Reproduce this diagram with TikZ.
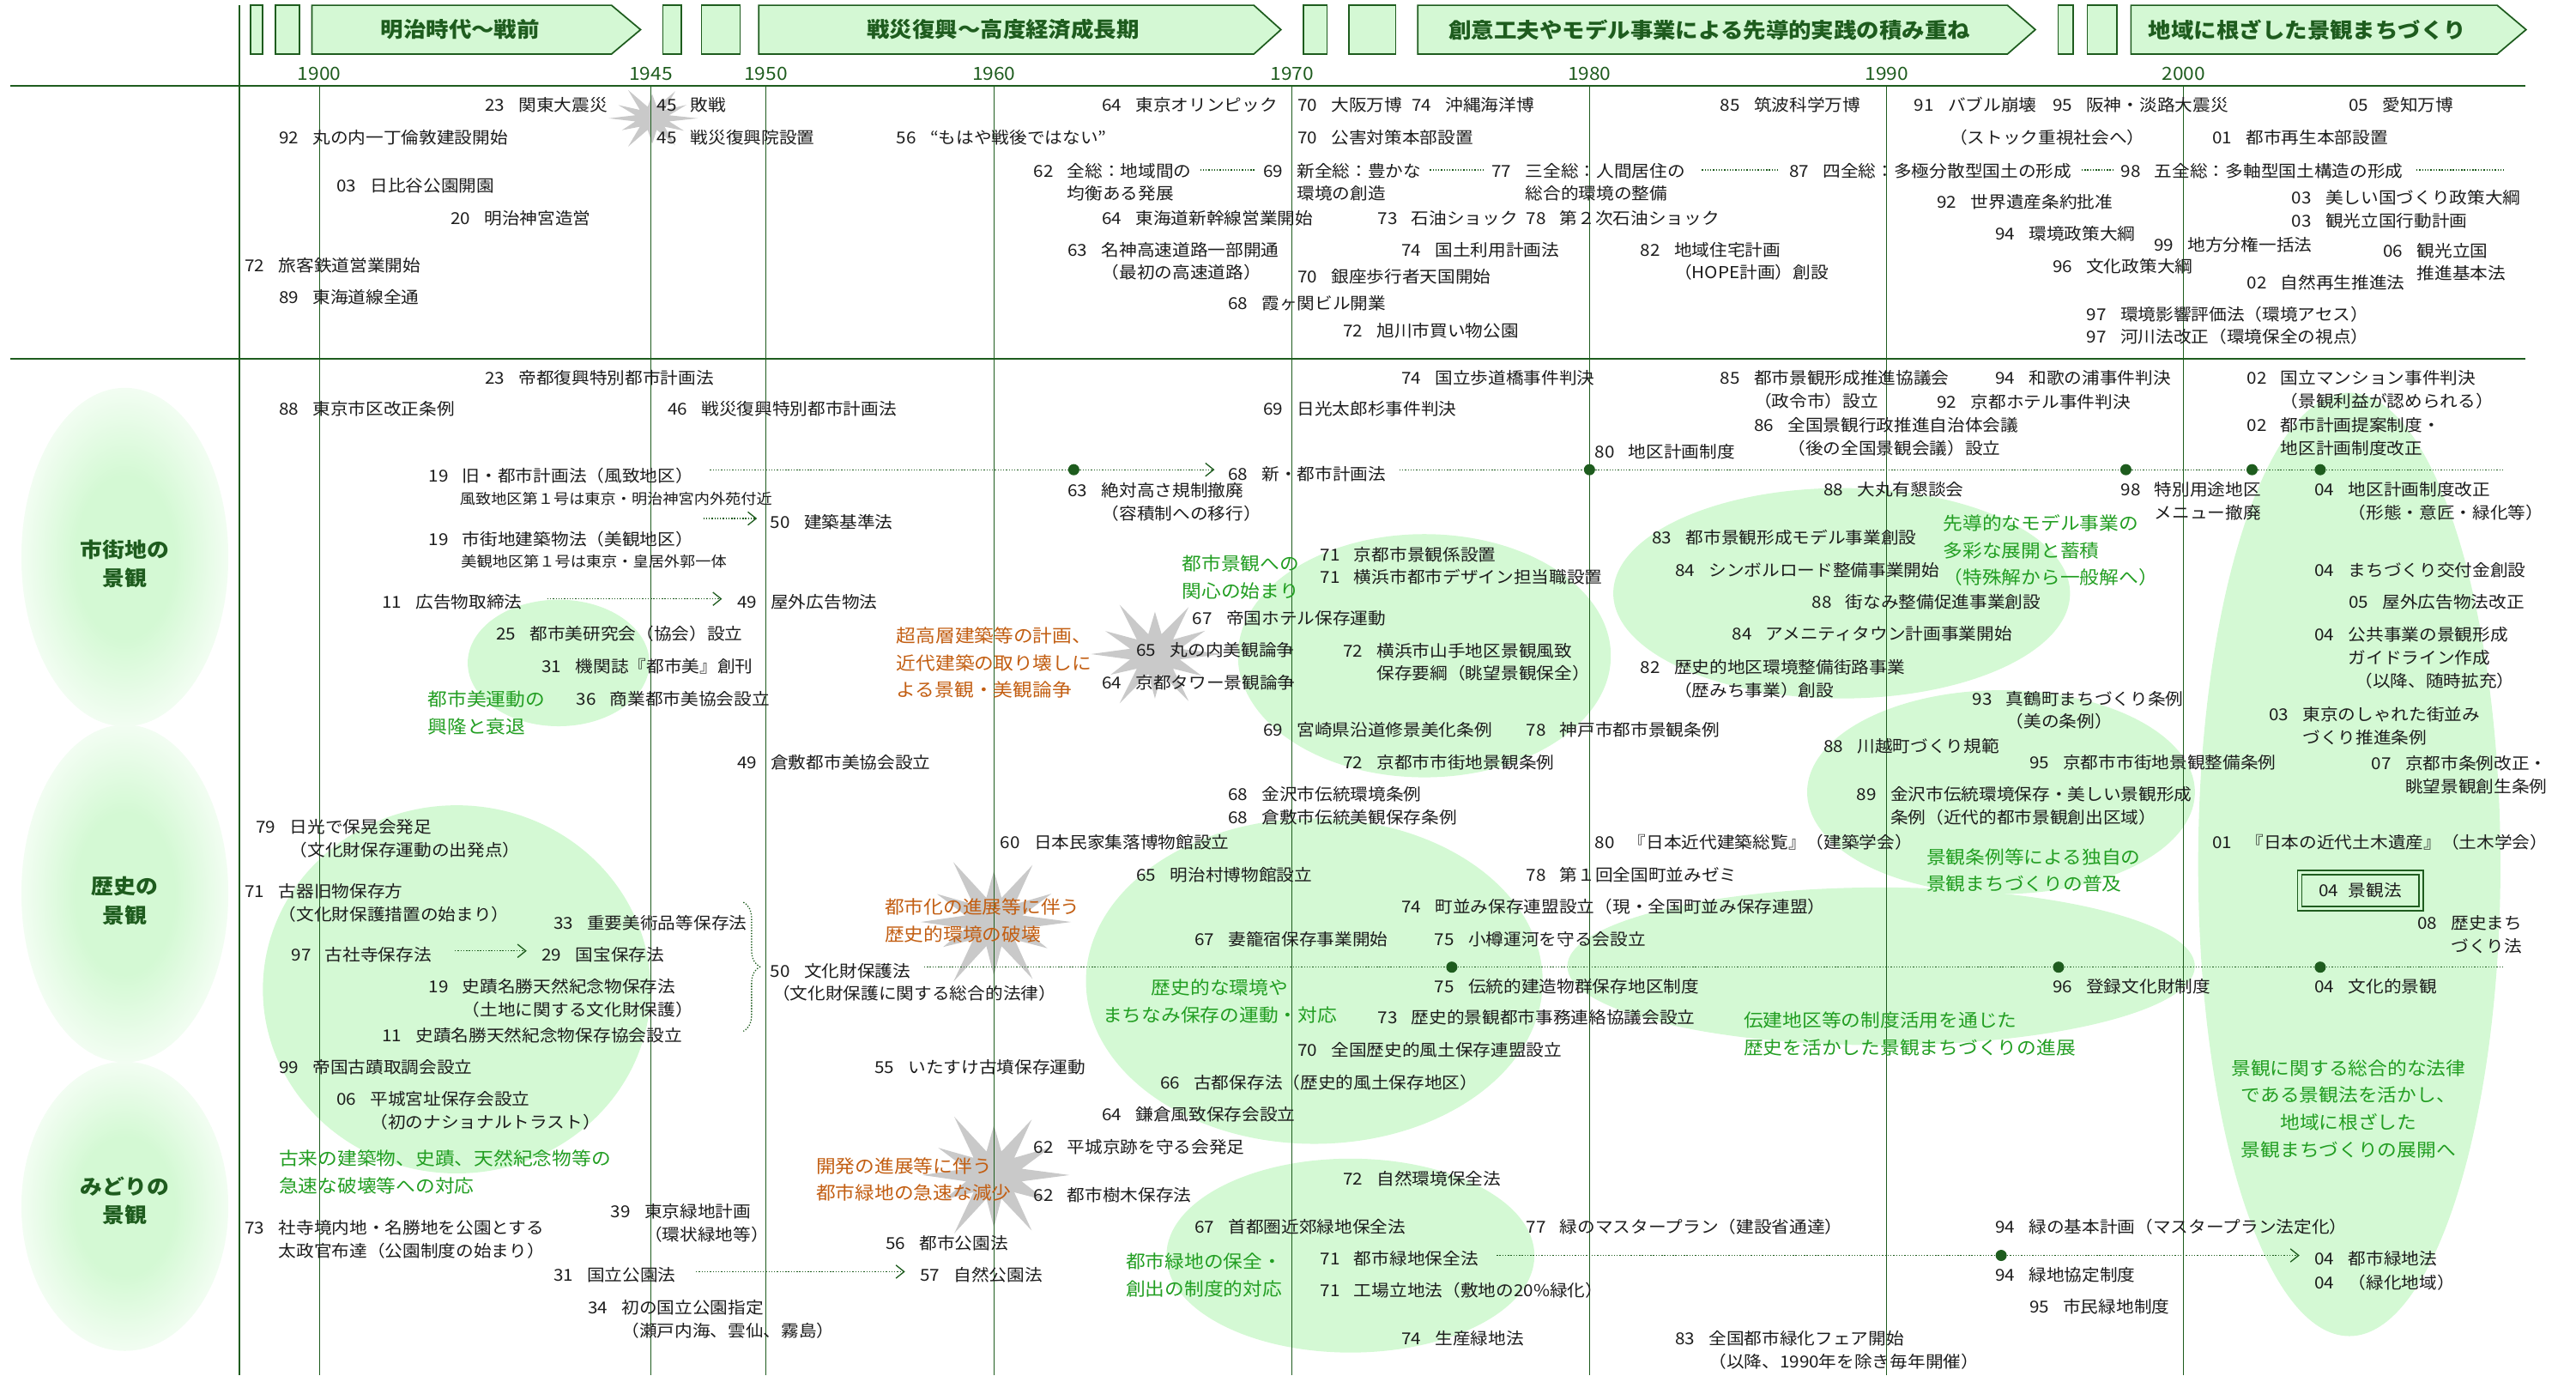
\documentclass[tikz,border=0pt]{standalone}
\usepackage{fontspec}
\setmainfont{Noto Sans CJK JP}[FakeStretch=1.08]
\usepackage{tikz}
\usetikzlibrary{arrows.meta,calc,decorations.pathreplacing}
\definecolor{dkgreen}{HTML}{1E5C1E}
\definecolor{hdrfill}{HTML}{D4F8D4}
\definecolor{blob}{HTML}{D4F9D4}
\definecolor{grn}{HTML}{229E22}
\definecolor{brn}{HTML}{C25E12}
\definecolor{burstgray}{HTML}{C9C9C9}
\definecolor{ink}{HTML}{1C1C1C}
\pgfdeclareradialshading{catshade}{\pgfpointorigin}{color(0bp)=(blob); color(12bp)=(blob); color(25bp)=(blob!30!white); color(50bp)=(blob!30!white)}

\newcommand\yrbox[1]{\makebox[20.5pt][l]{#1}}
\newcommand\ev[5]{\node[ev] (#1) at (#2,{#3+3.7}) {\begin{tabular}[t]{@{}l@{}l@{}}\yrbox{#4}&#5\end{tabular}};}
\newcommand\evtxt[4]{\node[ev] (#1) at (#2,{#3+3.7}) {#4};}
\newcommand\evnote[4]{\node[ev,font=\fontsize{8.8}{10}\selectfont] (#1) at (#2,{#3+3.3}) {#4};}
\newcommand\ann[5][grn]{\node[ann,text=#1] (#2) at (#3,{#4+4.1}) {\begin{tabular}[t]{@{}l@{}}#5\end{tabular}};}
\newcommand\burst[3]{\begin{scope}[shift={(#1)},x=#2pt,y=-#3pt]
 \fill[burstfill] (0:1) \foreach \a/\r in {30/.8,60/1,90/.82,120/1.05,150/.76,180/.95,210/.85,240/1.05,270/.78,300/1,330/.86} {-- (\a-15:.38) -- (\a:\r)} -- (345:.38) -- cycle;
\end{scope}}

\begin{document}
\begin{tikzpicture}[x=1pt,y=-1pt,
 ev/.style={anchor=base west,inner sep=0pt,text=ink,font=\fontsize{10}{14}\selectfont},
 ann/.style={anchor=base west,inner sep=0pt,font=\fontsize{11}{16.5}\selectfont},
 conn/.style={dkgreen,line width=.7pt,densely dotted},
 arr/.style={-{Straight Barb[length=5pt,width=8pt]}},
 fdot/.style={circle,fill=dkgreen,inner sep=0pt,minimum size=6.8pt},
 hdr/.style={draw=dkgreen,fill=hdrfill,line width=.9pt},
 hdrlab/.style={text=dkgreen,inner sep=0pt,font=\bfseries\fontsize{12.8}{14}\selectfont},
 yrline/.style={dkgreen,line width=.5pt},
 boldline/.style={dkgreen,line width=1.3pt},
 yrlab/.style={anchor=base,inner sep=0pt,text=dkgreen,font=\fontsize{11}{12}\selectfont},
 catlab/.style={anchor=base,inner sep=0pt,text=dkgreen,font=\bfseries\fontsize{12.5}{17.6}\selectfont},
 burstfill/.style={fill=burstgray}]
\useasboundingbox (0,0) rectangle (1568,837);

% category ellipses and green areas
\shade[shading=catshade] (76,339) ellipse (63 and 103);
\shade[shading=catshade] (76,543.7) ellipse (63 and 102.7);
\shade[shading=catshade] (76,734) ellipse (63 and 88);
\fill[blob] (340,403.4) ellipse (55.3 and 38.5);
\fill[blob] (278,602) ellipse (118 and 112);
\fill[blob] (867,399) ellipse (113.5 and 74);
\fill[blob] (1121,361) ellipse (139 and 64);
\fill[blob] (1218,482) ellipse (118 and 62);
\fill[blob] (1145,588) ellipse (191 and 48);
\fill[blob] (800,597) ellipse (139 and 99);
\fill[blob] (822,764) ellipse (112 and 59);
\fill[blob] (1430,526) ellipse (92 and 287);
\burst{397,72}{28}{19}
\burst{703,398}{41}{33}
\burst{605,561}{47}{40}
\burst{605,715}{46}{39}

% frame and years
\draw[boldline] (6.3,52.2) -- (1537,52.2);
\draw[boldline] (6.3,218.2) -- (1537,218.2);
\draw[boldline] (145.6,3.2) -- (145.6,837);
\foreach \x/\yl in {194.4/1900,396.2/1945,466.2/1950,605/1960,786.5/1970,967.5/1980,1148.5/1990,1329.2/2000}{
 \draw[yrline] (\x,52.2) -- (\x,837);
 \node[yrlab] (y\yl) at (\x,48.6) {\yl};
}

% header
\foreach \a/\b in {152.7/160,167.6/182.3,403.5/414.9,427/450.5,793.4/807.8,821.2/849.6,1252.8/1261.9,1270.5/1288.5}
 \draw[hdr] (\a,3.2) rectangle (\b,32.9);
\foreach \a/\b/\c in {189.9/372.2/389.9,461.9/763.2/779.7,863/1221.9/1238.9,1297.1/1520/1537.6}
 \draw[hdr] (\a,3.2) -- (\b,3.2) -- (\c,18.05) -- (\b,32.9) -- (\a,32.9) -- cycle;
\node[hdrlab] (era1) at (280.1,18.05) {明治時代～戦前};
\node[hdrlab] (era2) at (610.6,18.05) {戦災復興～高度経済成長期};
\node[hdrlab] (era3) at (1040.6,18.05) {創意工夫やモデル事業による先導的実践の積み重ね};
\node[hdrlab] (era4) at (1404.5,18.05) {地域に根ざした景観まちづくり};

\node[catlab] (cat1) at (76,339) {\begin{tabular}[t]{@{}c@{}}市街地の\\景観\end{tabular}};
\node[catlab] (cat2) at (76,544) {\begin{tabular}[t]{@{}c@{}}歴史の\\景観\end{tabular}};
\node[catlab] (cat3) at (76,726.6) {\begin{tabular}[t]{@{}c@{}}みどりの\\景観\end{tabular}};

% society
\ev{kanto}{295}{63.8}{23}{関東大震災}
\ev{haisen}{399.7}{63.8}{45}{敗戦}
\ev{olympic}{670.6}{63.8}{64}{東京オリンピック}
\ev{osaka}{789.6}{63.8}{70}{大阪万博}
\ev{okinawa}{859.2}{63.8}{74}{沖縄海洋博}
\ev{tsukuba}{1047}{63.8}{85}{筑波科学万博}
\ev{bubble}{1165}{63.8}{91}{バブル崩壊}
\evtxt{stock}{1186.5}{83.6}{（ストック重視社会へ）}
\ev{hanshin}{1249.2}{63.8}{95}{阪神・淡路大震災}
\ev{aichi}{1429.5}{63.8}{05}{愛知万博}
\ev{marunouchi}{169.6}{83.6}{92}{丸の内一丁倫敦建設開始}
\ev{fukkoin}{399.7}{83.6}{45}{戦災復興院設置}
\ev{mohaya}{545.5}{83.6}{56}{“もはや戦後ではない”}
\ev{kogai}{789.6}{83.6}{70}{公害対策本部設置}
\ev{saisei}{1346.5}{83.6}{01}{都市再生本部設置}
\ev{zenso}{629}{104}{62}{全総：地域間の\\&均衡ある発展}
\ev{shinzenso}{768.8}{104}{69}{新全総：豊かな\\&環境の創造}
\ev{sanzenso}{907.8}{104}{77}{三全総：人間居住の\\&総合的環境の整備}
\ev{yonzenso}{1089}{104}{87}{四全総：多極分散型国土の形成}
\ev{gozenso}{1290.8}{104}{98}{五全総：多軸型国土構造の形成}
\ev{hibiya}{204.6}{113.3}{03}{日比谷公園開園}
\ev{isan}{1178.9}{123.2}{92}{世界遺産条約批准}
\ev{utsukushii}{1394.8}{120.5}{03}{美しい国づくり政策大綱}
\ev{kanko}{1394.8}{134.5}{03}{観光立国行動計画}
\ev{meiji}{274.2}{132.7}{20}{明治神宮造営}
\ev{shinkansen}{670.6}{132.7}{64}{東海道新幹線営業開始}
\ev{oil}{838.4}{132.7}{73}{石油ショック}
\ev{oiltwo}{928.8}{132.7}{78}{第２次石油ショック}
\ev{kankyo}{1214.3}{142.4}{94}{環境政策大綱}
\ev{bunken}{1311}{149.3}{99}{地方分権一括法}
\ev{meishin}{649.8}{152}{63}{名神高速道路一部開通\\&（最初の高速道路）}
\ev{kokudo}{852.9}{152}{74}{国土利用計画法}
\ev{hope}{998.4}{152}{82}{地域住宅計画\\&（HOPE計画）創設}
\ev{kankoho}{1450.5}{152.5}{06}{観光立国\\&推進基本法}
\ev{ryokaku}{148.9}{161.5}{72}{旅客鉄道営業開始}
\ev{bunka}{1249.2}{161.9}{96}{文化政策大綱}
\ev{ginza}{789.6}{168.2}{70}{銀座歩行者天国開始}
\ev{shizen}{1367.5}{171.8}{02}{自然再生推進法}
\ev{tokaido}{169.6}{180.8}{89}{東海道線全通}
\ev{kasumi}{747.3}{184.4}{68}{霞ヶ関ビル開業}
\ev{asesu}{1270}{191.2}{97}{環境影響評価法（環境アセス）}
\ev{kasen}{1270}{205}{97}{河川法改正（環境保全の視点）}
\ev{asahikawa}{817.4}{201.1}{72}{旭川市買い物公園}

% townscape
\ev{teito}{295}{230.2}{23}{帝都復興特別都市計画法}
\ev{hodokyo}{852.9}{230.2}{74}{国立歩道橋事件判決}
\ev{kyogikai}{1047}{230.2}{85}{都市景観形成推進協議会\\&（政令市）設立}
\ev{wakanoura}{1214.3}{230.2}{94}{和歌の浦事件判決}
\ev{kunitachi}{1367.5}{230.2}{02}{国立マンション事件判決\\&（景観利益が認められる）}
\ev{kyotohotel}{1178.9}{244.6}{92}{京都ホテル事件判決}
\ev{shiku}{169.6}{249.1}{88}{東京市区改正条例}
\ev{sensai}{406.2}{249.1}{46}{戦災復興特別都市計画法}
\ev{nikko}{768.8}{249.1}{69}{日光太郎杉事件判決}
\ev{zenkoku}{1067.5}{259}{86}{全国景観行政推進自治体会議\\&（後の全国景観会議）設立}
\ev{teian}{1367.5}{259}{02}{都市計画提案制度・\\&地区計画制度改正}
\ev{chiku}{970.6}{275}{80}{地区計画制度}
\ev{toshikeikaku}{260.8}{289.4}{19}{旧・都市計画法（風致地区）}
\evnote{fuchi}{279.7}{303.4}{風致地区第１号は東京・明治神宮内外苑付近}
\ev{shintoshi}{747.3}{288.5}{68}{新・都市計画法}
\ev{zettai}{649.8}{298.4}{63}{絶対高さ規制撤廃\\&（容積制への移行）}
\ev{daimaru}{1109.8}{298}{88}{大丸有懇談会}
\ev{tokubetsu}{1290.8}{298}{98}{特別用途地区\\&メニュー撤廃}
\ev{chikukaisei}{1408.7}{298}{04}{地区計画制度改正\\&（形態・意匠・緑化等）}
\ev{kenchikubutsu}{260.8}{328}{19}{市街地建築物法（美観地区）}
\evnote{bikan}{280.5}{341.9}{美観地区第１号は東京・皇居外郭一体}
\ev{kijun}{468.8}{317.8}{50}{建築基準法}
\ev{model}{1005.5}{327.2}{83}{都市景観形成モデル事業創設}
\ev{keikangakari}{803.5}{337.6}{71}{京都市景観係設置}
\ev{yokohama}{803.5}{351.4}{71}{横浜市都市デザイン担当職設置}
\ev{symbol}{1019.4}{347}{84}{シンボルロード整備事業開始}
\ev{kofukin}{1408.7}{347}{04}{まちづくり交付金創設}
\ev{kokokutori}{232.4}{366.2}{11}{広告物取締法}
\ev{okugai}{448.5}{366.2}{49}{屋外広告物法}
\ev{machinami}{1102.7}{366.2}{88}{街なみ整備促進事業創設}
\ev{okugaikaisei}{1429.5}{366.2}{05}{屋外広告物法改正}
\ev{teikoku}{725.7}{376.1}{67}{帝国ホテル保存運動}
\ev{toshibi}{301.8}{385.6}{25}{都市美研究会（協会）設立}
\ev{amenity}{1054.1}{385.6}{84}{アメニティタウン計画事業開始}
\ev{kokyo}{1408.7}{386.2}{04}{公共事業の景観形成\\&ガイドライン作成\\&\hspace{4pt}（以降、随時拡充）}
\ev{marubikan}{691.6}{395.5}{65}{丸の内美観論争}
\ev{yamate}{817.4}{395.9}{72}{横浜市山手地区景観風致\\&保存要綱（眺望景観保全）}
\ev{kikanshi}{329.6}{405.4}{31}{機関誌『都市美』創刊}
\ev{rekimichi}{998.4}{405.9}{82}{歴史的地区環境整備街路事業\\&（歴みち事業）創設}
\ev{tower}{670.6}{415.3}{64}{京都タワー景観論争}
\ev{shogyo}{350.6}{425.2}{36}{商業都市美協会設立}
\ev{manazuru}{1200.4}{425.2}{93}{真鶴町まちづくり条例\\&（美の条例）}
\ev{shareta}{1380.9}{434.7}{03}{東京のしゃれた街並み\\&づくり推進条例}
\ev{miyazaki}{768.8}{444.1}{69}{宮崎県沿道修景美化条例}
\ev{kobe}{928.8}{444.1}{78}{神戸市都市景観条例}
\ev{kawagoe}{1109.8}{454}{88}{川越町づくり規範}
\ev{kurashikibi}{448.5}{463.9}{49}{倉敷都市美協会設立}
\ev{kyotoshigai}{817.4}{463.9}{72}{京都市市街地景観条例}
\ev{kyotoseibi}{1235.1}{463.9}{95}{京都市市街地景観整備条例}
\ev{kyotokaisei}{1443.4}{464.4}{07}{京都市条例改正・\\&眺望景観創生条例}

% history
\ev{kanazawa}{747.3}{483.6}{68}{金沢市伝統環境条例}
\ev{kanazawab}{1130}{483.6}{89}{金沢市伝統環境保存・美しい景観形成\\&条例（近代的都市景観創出区域）}
\ev{kurashiki}{747.3}{497.7}{68}{倉敷市伝統美観保存条例}
\ev{hokokai}{155.7}{503.1}{79}{日光で保晃会発足\\&（文化財保存運動の出発点）}
\ev{minka}{608.8}{512.4}{60}{日本民家集落博物館設立}
\ev{soran}{970.6}{512.4}{80}{『日本近代建築総覧』（建築学会）}
\ev{doboku}{1346.5}{512.4}{01}{『日本の近代土木遺産』（土木学会）}
\ev{meijimura}{691.6}{532.2}{65}{明治村博物館設立}
\ev{zemi}{928.8}{532.2}{78}{第１回全国町並みゼミ}
\ev{kokihin}{148.9}{542.6}{71}{古器旧物保存方\\&（文化財保護措置の始まり）}
\node[ev,anchor=center,draw=dkgreen,double=blob,double distance=1.8pt,line width=.8pt,minimum width=74pt,minimum height=22pt] (keikanho) at (1436.7,541.9) {04\hspace{6pt}景観法};
\ev{renmei}{852.9}{552}{74}{町並み保存連盟設立（現・全国町並み保存連盟）}
\ev{bijutsu}{336.7}{561.5}{33}{重要美術品等保存法}
\ev{rekishimachi}{1471.3}{561.9}{08}{歴史まち\\&づくり法}
\ev{tsumago}{727}{571.8}{67}{妻籠宿保存事業開始}
\ev{otaru}{873.1}{571.8}{75}{小樽運河を守る会設立}
\ev{koshaji}{177.2}{580.8}{97}{古社寺保存法}
\ev{kokuho}{329.6}{580.8}{29}{国宝保存法}
\ev{bunkazai}{468.8}{590.7}{50}{文化財保護法}
\evtxt{bunkazaib}{470}{604.7}{（文化財保護に関する総合的法律）}
\ev{shiseki}{260.8}{600.6}{19}{史蹟名勝天然紀念物保存法\\&（土地に関する文化財保護）}
\ev{dentoken}{873.1}{600.6}{75}{伝統的建造物群保存地区制度}
\ev{toroku}{1249.2}{600.6}{96}{登録文化財制度}
\ev{bunkateki}{1408.7}{600.6}{04}{文化的景観}
\ev{jimu}{838.4}{619.4}{73}{歴史的景観都市事務連絡協議会設立}
\ev{kyokai}{232.4}{629.9}{11}{史蹟名勝天然紀念物保存協会設立}
\ev{fudo}{789.6}{639.2}{70}{全国歴史的風土保存連盟設立}
\ev{teikokukoseki}{169.6}{649.5}{99}{帝国古蹟取調会設立}
\ev{itasuke}{532.1}{649.7}{55}{いたすけ古墳保存運動}
\ev{koto}{706}{659}{66}{古都保存法（歴史的風土保存地区）}
\ev{heijo}{204.6}{668.9}{06}{平城宮址保存会設立\\&（初のナショナルトラスト）}
\ev{kamakura}{670.6}{678.4}{64}{鎌倉風致保存会設立}
\ev{heijokyo}{629}{698.2}{62}{平城京跡を守る会発足}

% green
\ev{shizenkankyo}{817.4}{717.5}{72}{自然環境保全法}
\ev{jumoku}{629}{727.4}{62}{都市樹木保存法}
\ev{ryokuchi}{371.6}{737.3}{39}{東京緑地計画\\&（環状緑地等）}
\ev{shaji}{148.9}{747.1}{73}{社寺境内地・名勝地を公園とする\\&太政官布達（公園制度の始まり）}
\ev{shutoken}{727}{746.8}{67}{首都圏近郊緑地保全法}
\ev{master}{928.8}{746.8}{77}{緑のマスタープラン（建設省通達）}
\ev{kihon}{1214.3}{746.8}{94}{緑の基本計画（マスタープラン法定化）}
\ev{toshikoen}{538.9}{756.5}{56}{都市公園法}
\ev{ryokuhozen}{803.5}{766}{71}{都市緑地保全法}
\ev{ryokuchiho}{1408.7}{766}{04}{都市緑地法}
\ev{kokuritsu}{336.7}{775.6}{31}{国立公園法}
\ev{shizenkoen}{559.9}{775.6}{57}{自然公園法}
\ev{kyotei}{1214.3}{775.6}{94}{緑地協定制度}
\ev{ryokka}{1408.7}{780.4}{04}{（緑化地域）}
\ev{kojo}{803.5}{785.5}{71}{工場立地法（敷地の20\%緑化）}
\ev{shimin}{1235.1}{795.4}{95}{市民緑地制度}
\ev{shitei}{357.7}{795.7}{34}{初の国立公園指定\\&（瀬戸内海、雲仙、霧島）}
\ev{seisan}{852.9}{814.6}{74}{生産緑地法}
\ev{fair}{1019.4}{814.6}{83}{全国都市緑化フェア開始\\&（以降、1990年を除き毎年開催）}

% annotations
\ann{toshibiundo}{260.3}{425.7}{都市美運動の\\興隆と衰退}
\ann{kanshin}{719.4}{343}{都市景観への\\関心の始まり}
\ann{sendo}{1182.7}{318.5}{先導的なモデル事業の\\多彩な展開と蓄積\\（特殊解から一般解へ）}
\ann{fukyu}{1172.5}{521.4}{景観条例等による独自の\\景観まちづくりの普及}
\ann{kodai}{169.6}{704.9}{古来の建築物、史蹟、天然紀念物等の\\急速な破壊等への対応}
\ann{ryokuchitaio}{685.2}{767.8}{都市緑地の保全・\\創出の制度的対応}
\ann{dentokenann}{1061.2}{620.9}{伝建地区等の制度活用を通じた\\歴史を活かした景観まちづくりの進展}
\node[ann,anchor=base,text=grn] (machihozon) at (742.5,605.2) {\begin{tabular}[t]{@{}c@{}}歴史的な環境や\\まちなみ保存の運動・対応\end{tabular}};
\node[ann,anchor=base,text=grn] (sogo) at (1429.5,654.1) {\begin{tabular}[t]{@{}c@{}}景観に関する総合的な法律\\である景観法を活かし、\\地域に根ざした\\景観まちづくりの展開へ\end{tabular}};
\ann[brn]{kosou}{545.5}{386.9}{超高層建築等の計画、\\近代建築の取り壊しに\\よる景観・美観論争}
\ann[brn]{toshika}{538.4}{552}{都市化の進展等に伴う\\歴史的環境の破壊}
\ann[brn]{kaihatsu}{496.6}{709.4}{開発の進展等に伴う\\都市緑地の急速な減少}

% dotted connectors
\draw[conn] ($(zenso.base east)+(5,-4.3)$) -- ($(shinzenso.base west)+(-5,-4.3)$);
\draw[conn] ($(shinzenso.base east)+(5,-4.3)$) -- ($(sanzenso.base west)+(-5,-4.3)$);
\draw[conn] ($(sanzenso.base east)+(10,-4.3)$) -- ($(yonzenso.base west)+(-7,-4.3)$);
\draw[conn] ($(yonzenso.base east)+(6,-4.3)$) -- ($(gozenso.base west)+(-4,-4.3)$);
\coordinate (endgo) at (1523.9,103.4);
\draw[conn] ($(gozenso.base east |- endgo)+(8,0)$) -- (endgo);

\node[fdot] (dzettai) at (653.6,285.8) {};
\node[fdot] (dchiku) at (967.5,285.8) {};
\node[fdot] (dtoku) at (1294,285.8) {};
\node[fdot] (dteian) at (1370.8,285.8) {};
\node[fdot] (dkaisei) at (1412.3,285.8) {};
\coordinate (endtoshi) at (1523.2,285.8);
\draw[conn] ($(toshikeikaku.east |- dzettai)+(10,0)$) -- (dzettai);
\draw[conn,arr] (dzettai) -- ($(shintoshi.west |- dzettai)+(-8,0)$);
\draw[conn] ($(shintoshi.east |- dchiku)+(8,0)$) -- (dchiku) -- (dtoku) -- (dteian) -- (dkaisei) -- (endtoshi);

\coordinate (lkijun) at (0,315.5);
\draw[conn,arr] ($(kenchikubutsu.east |- lkijun)+(6,0)$) -- ($(kijun.west |- lkijun)+(-8,0)$);
\coordinate (lkoku) at (0,364.4);
\draw[conn,arr] ($(kokokutori.east |- lkoku)+(15,0)$) -- ($(okugai.west |- lkoku)+(-9,0)$);
\coordinate (lkosha) at (0,578.6);
\draw[conn,arr] ($(koshaji.east |- lkosha)+(14,0)$) -- ($(kokuho.west |- lkosha)+(-9,0)$);

\coordinate (bra) at (452.5,549);
\coordinate (brb) at (452.5,627.5);
\draw[conn,decorate,decoration={brace,amplitude=10pt}] (bra) -- (brb);

\node[fdot] (ddento) at (883.7,588.5) {};
\node[fdot] (dtoroku) at (1253,588.5) {};
\node[fdot] (dbunka) at (1412.3,588.5) {};
\coordinate (endbunka) at (1523.2,588.5);
\draw[conn] ($(bunkazai.east |- ddento)+(8,0)$) -- (ddento) -- (dtoroku) -- (dbunka) -- (endbunka);

\coordinate (lkoen) at (0,773.8);
\draw[conn,arr] ($(kokuritsu.east |- lkoen)+(12,0)$) -- ($(shizenkoen.west |- lkoen)+(-9,0)$);
\node[fdot] (dkyotei) at (1218.1,763.9) {};
\draw[conn] ($(ryokuhozen.east |- dkyotei)+(11,0)$) -- (dkyotei);
\draw[conn,arr] (dkyotei) -- ($(ryokuchiho.west |- dkyotei)+(-9,0)$);
\end{tikzpicture}
\end{document}
